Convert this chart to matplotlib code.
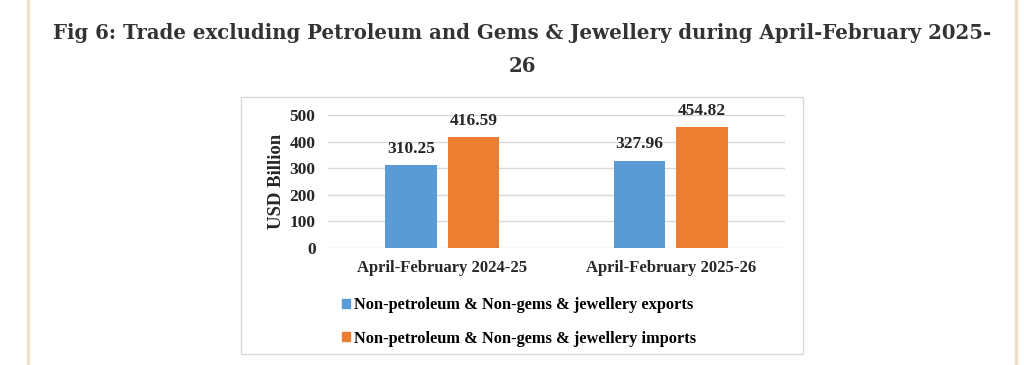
import matplotlib.pyplot as plt
from matplotlib.patches import Patch, Rectangle
from matplotlib.lines import Line2D
import numpy as np

# data
periods = ['April-February 2024-25', 'April-February 2025-26']
exports = [310.25, 327.96]
imports = [416.59, 454.82]
series_names = ['Non-petroleum & Non-gems & jewellery exports',
                'Non-petroleum & Non-gems & jewellery imports']
yticks = [0, 100, 200, 300, 400, 500]

blue = '#5B9BD5'
orange = '#ED7D31'
grid_col = '#D9D9D9'
serif = 'Liberation Serif'
txt = '#262626'

fig = plt.figure(figsize=(10.24, 3.65), dpi=100)
fig.patch.set_facecolor('white')

# page side rules (beige)
for xp in (28 / 1024, 1016 / 1024):
    fig.add_artist(Line2D([xp, xp], [0, 1], transform=fig.transFigure,
                          color='#EEDFC6', lw=2.5))

# title
fig.text(0.510, 1 - 33 / 365,
         'Fig 6: Trade excluding Petroleum and Gems & Jewellery during April-February 2025-',
         ha='center', va='center', fontsize=14.2, fontweight='bold',
         family='DejaVu Serif', color='#333333')
fig.text(0.510, 1 - 66 / 365, '26', ha='center', va='center', fontsize=14.2,
         fontweight='bold', family='DejaVu Serif', color='#333333')

# chart frame
fig.add_artist(Rectangle((241 / 1024, 11 / 365), 562 / 1024, 257 / 365,
                         transform=fig.transFigure, fill=False,
                         edgecolor='#D9D9D9', lw=1))

ax = fig.add_axes([328 / 1024, 117 / 365, 457 / 1024, 133 / 365])
x = np.arange(len(periods))
w = 0.225
off = 0.1375
b1 = ax.bar(x - off, exports, w, color=blue)
b2 = ax.bar(x + off, imports, w, color=orange)

for bars, vals in ((b1, exports), (b2, imports)):
    for bar, v in zip(bars, vals):
        ax.annotate(f'{v:.2f}', (bar.get_x() + bar.get_width() / 2, v),
                    xytext=(0, 6), textcoords='offset points',
                    ha='center', va='bottom', fontsize=12.5,
                    fontweight='bold', family=serif, color=txt)

ax.set_xlim(-0.5, 1.5)
ax.set_ylim(0, 500)
ax.set_yticks(yticks)
ax.set_xticks(x)
ax.set_xticklabels(periods)
ax.grid(axis='y', color=grid_col, lw=1)
ax.set_axisbelow(True)
for s in ax.spines.values():
    s.set_visible(False)
ax.tick_params(length=0)
ax.tick_params(axis='y', pad=9)
ax.tick_params(axis='x', pad=9)
for lab in ax.get_xticklabels():
    lab.set_fontsize(12)
for lab in ax.get_yticklabels():
    lab.set_fontsize(12.5)
for lab in ax.get_xticklabels() + ax.get_yticklabels():
    lab.set_fontweight('bold')
    lab.set_family(serif)
    lab.set_color(txt)
ax.set_ylabel('USD Billion', fontsize=13.5, fontweight='bold', family=serif,
              color=txt, labelpad=3)

handles = [Patch(color=blue), Patch(color=orange)]
fig.legend(handles, series_names, loc='center left',
           bbox_to_anchor=(327 / 1024, 1 - 322 / 365),
           frameon=False, handlelength=0.5, handleheight=0.5,
           handletextpad=0.25, labelspacing=1.05,
           prop={'family': serif, 'weight': 'bold', 'size': 11.8})

fig.savefig('out.png', dpi=100, facecolor='white')
